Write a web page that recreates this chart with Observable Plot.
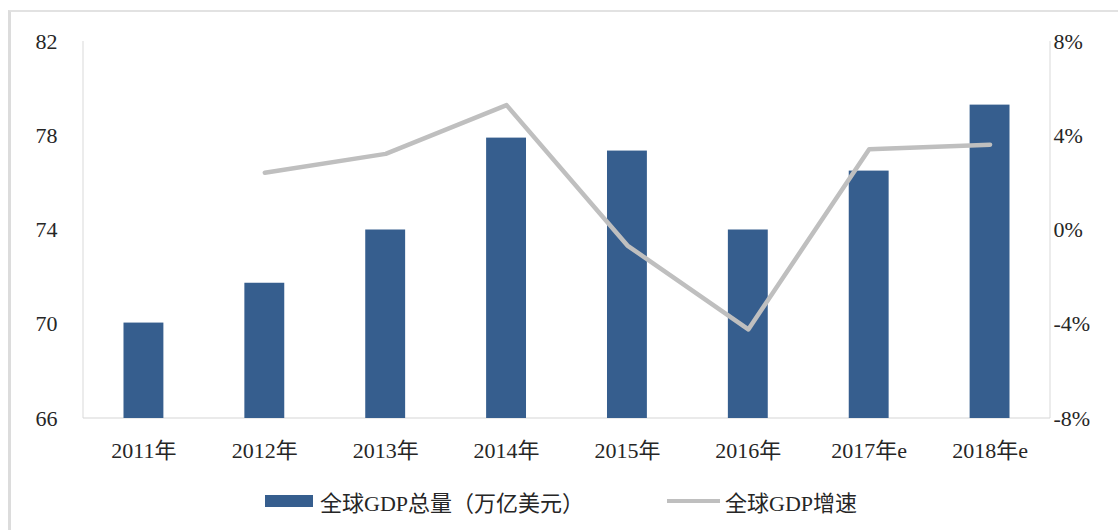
<!DOCTYPE html>
<html>
<head>
<meta charset="utf-8">
<script src="https://cdn.jsdelivr.net/npm/d3@7"></script>
<script src="https://cdn.jsdelivr.net/npm/@observablehq/plot@0.6"></script>
<style>
  body { margin: 0; background: #fff; }
  #wrap { position: relative; width: 1118px; height: 530px; overflow: hidden; background: #fff;
          font-family: "Liberation Serif", "Noto Sans CJK SC", serif; color: #262626; }
  #frame { position: absolute; left: 8px; top: 10px; right: -4px; bottom: -4px;
           border-left: 3px solid #dcdcdc; border-top: 2px solid #e2e2e2; pointer-events: none; }
  #chart { position: absolute; left: 0; top: 0; }
  #legend { position: absolute; left: 0; top: 487px; width: 1118px; height: 28px; font-size: 22px; }
  .item { position: absolute; top: 0; height: 28px; display: flex; align-items: center; white-space: nowrap; }
  .sw-bar { width: 48px; height: 12px; background: #365E8E; margin-right: 7px; }
  .sw-line { width: 53px; height: 4px; background: #BFBFBF; margin-right: 5px; }
</style>
</head>
<body>
<div id="wrap">
  <div id="chart"></div>
  <div id="frame"></div>
  <div id="legend">
    <div class="item" style="left:265px"><span class="sw-bar"></span><span>全球GDP总量（万亿美元）</span></div>
    <div class="item" style="left:667px"><span class="sw-line"></span><span>全球GDP增速</span></div>
  </div>
</div>
<script>
// ---- data ----
const years = ["2011年", "2012年", "2013年", "2014年", "2015年", "2016年", "2017年e", "2018年e"];
const gdpTotal = [70.05, 71.74, 74.0, 77.9, 77.35, 74.0, 76.5, 79.3];   // 万亿美元 (left axis)
const gdpGrowth = [null, 2.43, 3.23, 5.3, -0.66, -4.22, 3.43, 3.62];    // % (right axis)
const leftTicks = [66, 70, 74, 78, 82];
const rightTicks = [-8, -4, 0, 4, 8];

const leftDomain = [66, 82];
const rightDomain = [-8, 8];
// map right-axis values (%) into the left-axis value space
const toLeft = d3.scaleLinear(rightDomain, leftDomain);

const rows = years.map((year, i) => ({year, total: gdpTotal[i], growth: gdpGrowth[i]}));
const lineRows = rows.filter(d => d.growth != null);

const axisLines = (index, scales, values, dims) => {
  const g = d3.create("svg:g").attr("stroke", "#e0e0e0").attr("stroke-width", 1.2);
  const yTop = scales.y(leftDomain[1]), yBot = scales.y(leftDomain[0]);
  const xL = dims.marginLeft, xR = dims.width - dims.marginRight;
  g.append("line").attr("x1", xL).attr("x2", xL).attr("y1", yTop).attr("y2", yBot);
  g.append("line").attr("x1", xR).attr("x2", xR).attr("y1", yTop).attr("y2", yBot);
  g.append("line").attr("x1", xL).attr("x2", xR).attr("y1", yBot).attr("y2", yBot).attr("stroke", "#d6d6d6");
  return g.node();
};

const plot = Plot.plot({
  width: 1118,
  height: 476,
  marginLeft: 83,
  marginRight: 68,
  marginTop: 41,
  marginBottom: 58,
  style: { fontFamily: '"Liberation Serif", "Noto Sans CJK SC", serif', fontSize: "22px", color: "#262626", background: "transparent" },
  x: { domain: years, paddingInner: 0.67, paddingOuter: 0.335, round: false, label: null },
  y: { domain: leftDomain, label: null },
  marks: [
    axisLines,
    Plot.barY(rows, { x: "year", y1: leftDomain[0], y2: "total", fill: "#365E8E" }),
    Plot.line(lineRows, { x: "year", y: d => toLeft(d.growth), stroke: "#BFBFBF", strokeWidth: 4.5, strokeLinejoin: "round" }),
    Plot.axisY({ anchor: "left", ticks: leftTicks, tickSize: 0, tickPadding: 26, label: null }),
    Plot.axisY({ anchor: "right", ticks: rightTicks.map(v => toLeft(v)), tickFormat: v => Math.round(toLeft.invert(v)) + "%",
                 tickSize: 0, tickPadding: 3, label: null }),
    Plot.axisX({ tickSize: 0, tickPadding: 24, label: null })
  ]
});
document.getElementById("chart").appendChild(plot);
</script>
</body>
</html>
